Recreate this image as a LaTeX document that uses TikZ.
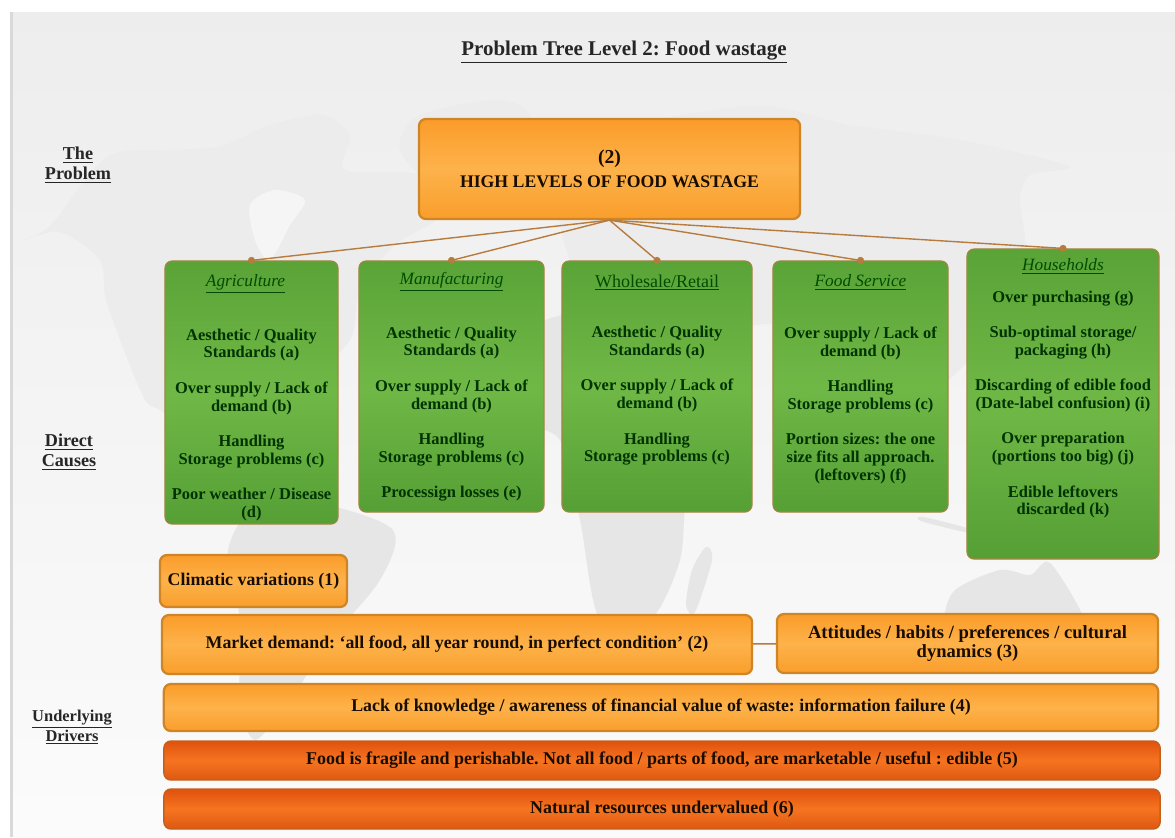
\documentclass[tikz,border=0pt]{standalone}
\usepackage{fontspec}
\setmainfont{Liberation Serif}
\frenchspacing
\usetikzlibrary{positioning,arrows.meta}

\definecolor{landgray}{HTML}{E6E6E6}
\definecolor{landpale}{HTML}{ECECEC}
\definecolor{linkbrown}{HTML}{B87B3E}
\definecolor{orangeedge}{HTML}{CF8526}
\definecolor{darkedge}{HTML}{C2601C}
\definecolor{greenedge}{HTML}{A4853F}
\definecolor{greentop}{HTML}{5AA337}
\definecolor{greenmid}{HTML}{70B846}
\definecolor{greenlow}{HTML}{559F35}
\definecolor{orangetop}{HTML}{FB9C2A}
\definecolor{orangemid}{HTML}{FDB24A}
\definecolor{orangelow}{HTML}{F99E2C}
\definecolor{darktop}{HTML}{E0520E}
\definecolor{darkmid}{HTML}{F67420}
\definecolor{darklow}{HTML}{DE5812}

\tikzset{
  greenbox/.style={draw=greenedge,line width=0.8pt,rounded corners=5pt,
    top color=greentop,bottom color=greenlow,middle color=greenmid},
  orangebox/.style={draw=orangeedge,line width=1.6pt,rounded corners=5pt,
    top color=orangetop,bottom color=orangelow,middle color=orangemid,
    text=black!90!orange,font=\fontsize{12.7}{13.6}\selectfont\bfseries,align=center,inner sep=2pt},
  darkbox/.style={draw=darkedge,line width=1pt,rounded corners=5pt,
    top color=darktop,bottom color=darklow,middle color=darkmid,
    text=black!90!orange,font=\fontsize{12.8}{13.6}\selectfont\bfseries,align=center,inner sep=2pt},
  itemtext/.style={text=black!80!green,font=\fontsize{11.7}{12.6}\selectfont\bfseries,align=center,inner sep=0pt},
  headtext/.style={text=black!70!green,font=\fontsize{12.3}{12.6}\selectfont\itshape,inner sep=0pt},
  sidetext/.style={text=black!85,font=\fontsize{12.9}{14}\selectfont\bfseries,align=center,inner sep=0pt},
  link/.style={draw=linkbrown,line width=1pt},
  dotlink/.style={link,-{Circle[length=5pt,fill=linkbrown]},shorten >=-2.5pt},
  land/.style={fill=landgray,draw=none},
  paleland/.style={fill=landpale,draw=none}
}

\begin{document}
\begin{tikzpicture}[x=0.025cm,y=-0.025cm]

\useasboundingbox (0,0) rectangle (1175,837);

% page and map
\fill[white] (0,0) rectangle (1175,837);
\shade[top color=black!7,bottom color=black!1.5] (10,12) rectangle (1175,837);
\fill[black!15] (10,12) rectangle (13,837);

\fill[paleland] plot[smooth cycle] coordinates {(23,240) (50,226) (107,157) (170,150) (222,146) (270,125) (322,115) (350,135) (345,170) (420,175) (440,215) (395,245) (360,290) (350,340) (300,390) (275,430) (300,480) (280,490) (230,470) (164,413) (143,396) (107,303) (100,260) (60,232)};
\fill[black!4] plot[smooth cycle] coordinates {(250,205) (275,190) (305,200) (290,225) (270,260) (255,240)};
\fill[paleland] plot[smooth cycle] coordinates {(420,115) (500,100) (530,120) (480,175) (440,190) (400,150)};
\fill[land] plot[smooth cycle] coordinates {(260,500) (320,503) (393,530) (380,580) (330,640) (290,700) (255,740) (240,700) (240,620) (228,550)};
\fill[paleland] plot[smooth cycle] coordinates {(560,190) (620,130) (757,106) (850,125) (960,140) (1069,166) (1030,175) (1020,200) (1025,250) (1000,270) (1010,320) (970,360) (920,400) (850,400) (800,330) (740,330) (720,380) (670,310) (600,290) (570,260)};
\fill[land] plot[smooth cycle] coordinates {(545,320) (640,310) (700,380) (740,400) (690,480) (680,560) (650,620) (600,620) (580,520) (560,440) (520,420) (510,360)};
\fill[land] plot[smooth cycle] coordinates {(706,547) (712,560) (695,612) (686,605) (692,570)};
\fill[land] plot[smooth cycle] coordinates {(944,620) (955,590) (1000,570) (1030,575) (1050,563) (1085,620) (1085,650) (1000,660) (950,650)};
\fill[land] plot[smooth cycle] coordinates {(923,517) (967,528) (965,532) (921,521)};

% labels
\node[sidetext,font=\fontsize{14.9}{16}\selectfont\bfseries] (title) at (624,52) {\underline{Problem Tree Level 2: Food wastage}};
\node[sidetext] (problem) at (78,165) {\underline{The}\\\underline{Problem}};
\node[sidetext] (causes) at (69,452) {\underline{Direct}\\\underline{Causes}};
\node[sidetext,font=\fontsize{11.7}{14}\selectfont\bfseries] (drivers) at (72,727) {\underline{Underlying}\\\underline{Drivers}};

% the problem
\node[orangebox,minimum width=9.525cm,minimum height=2.5cm,font=\fontsize{12.6}{17}\selectfont\bfseries] (top) at (609.5,169) {\fontsize{14}{17}\selectfont(2)\\HIGH LEVELS OF FOOD WASTAGE};

% direct causes
\node[greenbox,minimum width=4.325cm,minimum height=6.575cm] (agri) at (251.5,392.5) {};
\node[greenbox,minimum width=4.625cm,minimum height=6.275cm] (manu) at (451.5,386.5) {};
\node[greenbox,minimum width=4.75cm,minimum height=6.275cm] (whole) at (657,386.5) {};
\node[greenbox,minimum width=4.375cm,minimum height=6.275cm] (food) at (860.5,386.5) {};
\node[greenbox,minimum width=4.8cm,minimum height=7.75cm] (house) at (1063,404) {};

\node[headtext,below=0.35cm of agri.north,xshift=-0.15cm] (agrihead) {\underline{Agriculture}};
\node[headtext,below=0.3cm of manu.north] (manuhead) {\underline{Manufacturing}};
\node[headtext,font=\fontsize{12.8}{12.6}\selectfont,below=0.35cm of whole.north] (wholehead) {\underline{Wholesale/Retail}};
\node[headtext,below=0.35cm of food.north] (foodhead) {\underline{Food Service}};
\node[headtext,below=0.25cm of house.north] (househead) {\underline{Households}};

\node[itemtext,below=1.7cm of agri.north] (agritext) {Aesthetic / Quality\\Standards (a)\\[12.6pt]Over supply / Lack of\\demand (b)\\[12.6pt]Handling\\Storage problems (c)\\[12.6pt]Poor weather / Disease\\(d)};
\node[itemtext,below=1.65cm of manu.north] (manutext) {Aesthetic / Quality\\Standards (a)\\[12.6pt]Over supply / Lack of\\demand (b)\\[12.6pt]Handling\\Storage problems (c)\\[12.6pt]Processign losses (e)};
\node[itemtext,below=1.64cm of whole.north] (wholetext) {Aesthetic / Quality\\Standards (a)\\[12.6pt]Over supply / Lack of\\demand (b)\\[12.6pt]Handling\\Storage problems (c)};
\node[itemtext,below=1.65cm of food.north] (foodtext) {Over supply / Lack of\\demand (b)\\[12.6pt]Handling\\Storage problems (c)\\[12.6pt]Portion sizes: the one\\size fits all approach.\\(leftovers) (f)};
\node[itemtext,below=1.05cm of house.north] (housetext) {Over purchasing (g)\\[12.6pt]Sub-optimal storage/\\packaging (h)\\[12.6pt]Discarding of edible food\\(Date-label confusion) (i)\\[12.6pt]Over preparation\\(portions too big) (j)\\[12.6pt]Edible leftovers\\discarded (k)};

\draw[dotlink] (top.south) -- (agri.north);
\draw[dotlink] (top.south) -- (manu.north);
\draw[dotlink] (top.south) -- (whole.north);
\draw[dotlink] (top.south) -- (food.north);
\draw[dotlink] (top.south) -- (house.north);

% underlying drivers
\node[orangebox,minimum width=4.675cm,minimum height=1.3cm] (climate) at (253.5,581) {Climatic variations (1)};
\node[orangebox,minimum width=14.75cm,minimum height=1.475cm] (market) at (457,644.5) {Market demand: ‘all food, all year round, in perfect condition’ (2)};
\node[orangebox,minimum width=9.525cm,minimum height=1.475cm,font=\fontsize{13.2}{13.6}\selectfont\bfseries] (attitude) at (967.5,643.5) {Attitudes / habits / preferences / cultural\\dynamics (3)};
\node[orangebox,minimum width=24.85cm,minimum height=1.175cm] (knowledge) at (661,707.5) {Lack of knowledge / awareness of financial value of waste: information failure (4)};
\node[darkbox,minimum width=24.9cm,minimum height=0.975cm] (fragile) at (662,760.5) {Food is fragile and perishable. Not all food / parts of food, are marketable / useful : edible (5)};
\node[darkbox,minimum width=24.9cm,minimum height=1cm] (natural) at (662,809) {Natural resources undervalued (6)};

\draw[link] (market) -- (attitude);

\end{tikzpicture}
\end{document}
